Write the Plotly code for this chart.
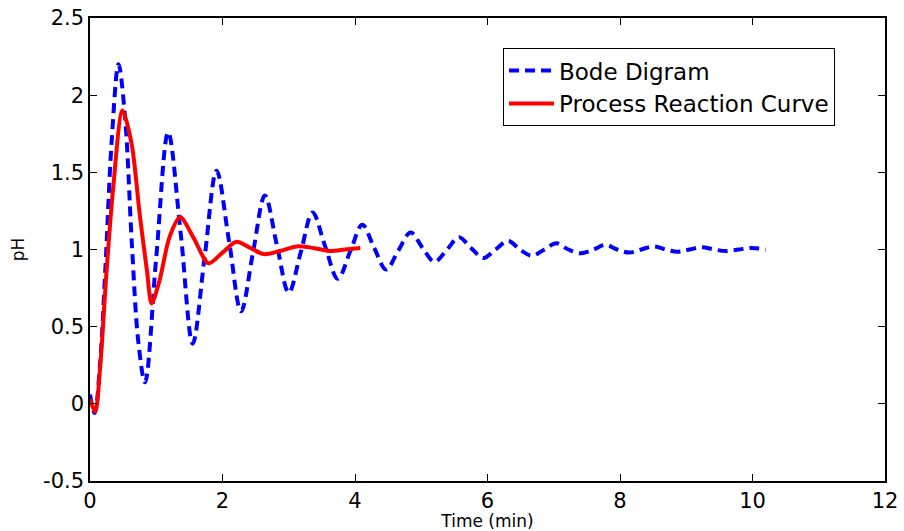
import plotly.graph_objects as go

# Bode Digram (blue dashed)
bode_t = [0.0, 0.07, 0.15, 0.23, 0.33, 0.43, 0.53, 0.63, 0.73, 0.83, 1.0, 1.18, 1.37, 1.55, 1.73,
          1.91, 2.1, 2.28, 2.46, 2.64, 2.82, 3.0, 3.18, 3.36, 3.55, 3.74, 3.93, 4.11, 4.29,
          4.47, 4.65, 4.84, 5.02, 5.2, 5.39, 5.57, 5.75, 5.94, 6.12, 6.31, 6.49, 6.67, 6.86,
          7.04, 7.22, 7.41, 7.6, 7.78, 7.96, 8.14, 8.32, 8.51, 8.69, 8.87, 9.05, 9.24, 9.42,
          9.6, 9.79, 9.98, 10.2]
bode_y = [0.06, -0.06, 0.25, 0.86, 1.72, 2.2, 1.85, 1.05, 0.4, 0.14, 0.95, 1.76, 1.1, 0.39, 0.95,
          1.51, 1.05, 0.6, 0.98, 1.35, 1.03, 0.72, 0.98, 1.24, 1.02, 0.81, 0.99, 1.16, 1.01,
          0.87, 0.99, 1.11, 1.01, 0.92, 1.0, 1.08, 1.01, 0.945, 1.0, 1.055, 1.0, 0.96, 1.0,
          1.04, 1.0, 0.975, 1.0, 1.03, 1.0, 0.98, 1.0, 1.02, 1.0, 0.985, 1.0, 1.015, 1.0,
          0.99, 1.0, 1.01, 1.0]

# Process Reaction Curve (red solid)
prc_t = [0.0, 0.08, 0.15, 0.25, 0.35, 0.49, 0.63, 0.75, 0.86, 0.93, 1.05, 1.2, 1.36, 1.57,
         1.79, 2.0, 2.21, 2.42, 2.62, 2.87, 3.12, 3.37, 3.62, 3.85, 4.08]
prc_y = [0.03, -0.05, 0.22, 0.86, 1.4, 1.9, 1.68, 1.23, 0.86, 0.65, 0.8, 1.08, 1.21, 1.07,
         0.91, 0.98, 1.05, 1.01, 0.97, 0.99, 1.02, 1.01, 0.99, 1.0, 1.01]

x_ticks = [0, 2, 4, 6, 8, 10, 12]
y_ticks = [-0.5, 0, 0.5, 1, 1.5, 2, 2.5]
y_tick_text = ["-0.5", "0", "0.5", "1", "1.5", "2", "2.5"]

font_family = "DejaVu Sans, Liberation Sans, Arial, sans-serif"

fig = go.Figure()
fig.add_trace(go.Scatter(x=bode_t, y=bode_y, mode="lines", name="Bode Digram",
                         line=dict(color="#0000ff", width=4, dash="10px,6px", shape="spline", smoothing=1.0)))
fig.add_trace(go.Scatter(x=prc_t, y=prc_y, mode="lines", name="Process Reaction Curve",
                         line=dict(color="#ff0000", width=4, shape="spline", smoothing=0.8)))

axis_common = dict(showline=True, linecolor="black", linewidth=1.5, mirror="allticks",
                   ticks="inside", ticklen=7, tickcolor="black", tickwidth=1,
                   showgrid=False, zeroline=False, automargin=False,
                   tickfont=dict(family=font_family, size=21, color="black"))

fig.update_layout(
    width=904, height=531,
    margin=dict(l=90, r=19, t=18, b=50),
    paper_bgcolor="white", plot_bgcolor="white",
    font=dict(family=font_family, color="black"),
    showlegend=True,
    legend=dict(x=0.5195, y=0.935, xanchor="left", yanchor="top",
                bgcolor="white", bordercolor="black", borderwidth=1,
                font=dict(family=font_family, size=23, color="black"),
                tracegroupgap=0, itemwidth=45),
)
fig.update_xaxes(range=[0, 12], tickvals=x_ticks, ticktext=[str(v) for v in x_ticks],
                 title=dict(text="Time (min)", font=dict(family=font_family, size=17, color="black"), standoff=5),
                 **axis_common)
fig.update_yaxes(range=[-0.5, 2.5], tickvals=y_ticks, ticktext=y_tick_text,
                 title=dict(text="pH", font=dict(family=font_family, size=17, color="black"), standoff=14),
                 **axis_common)

fig.write_html("out.html")
